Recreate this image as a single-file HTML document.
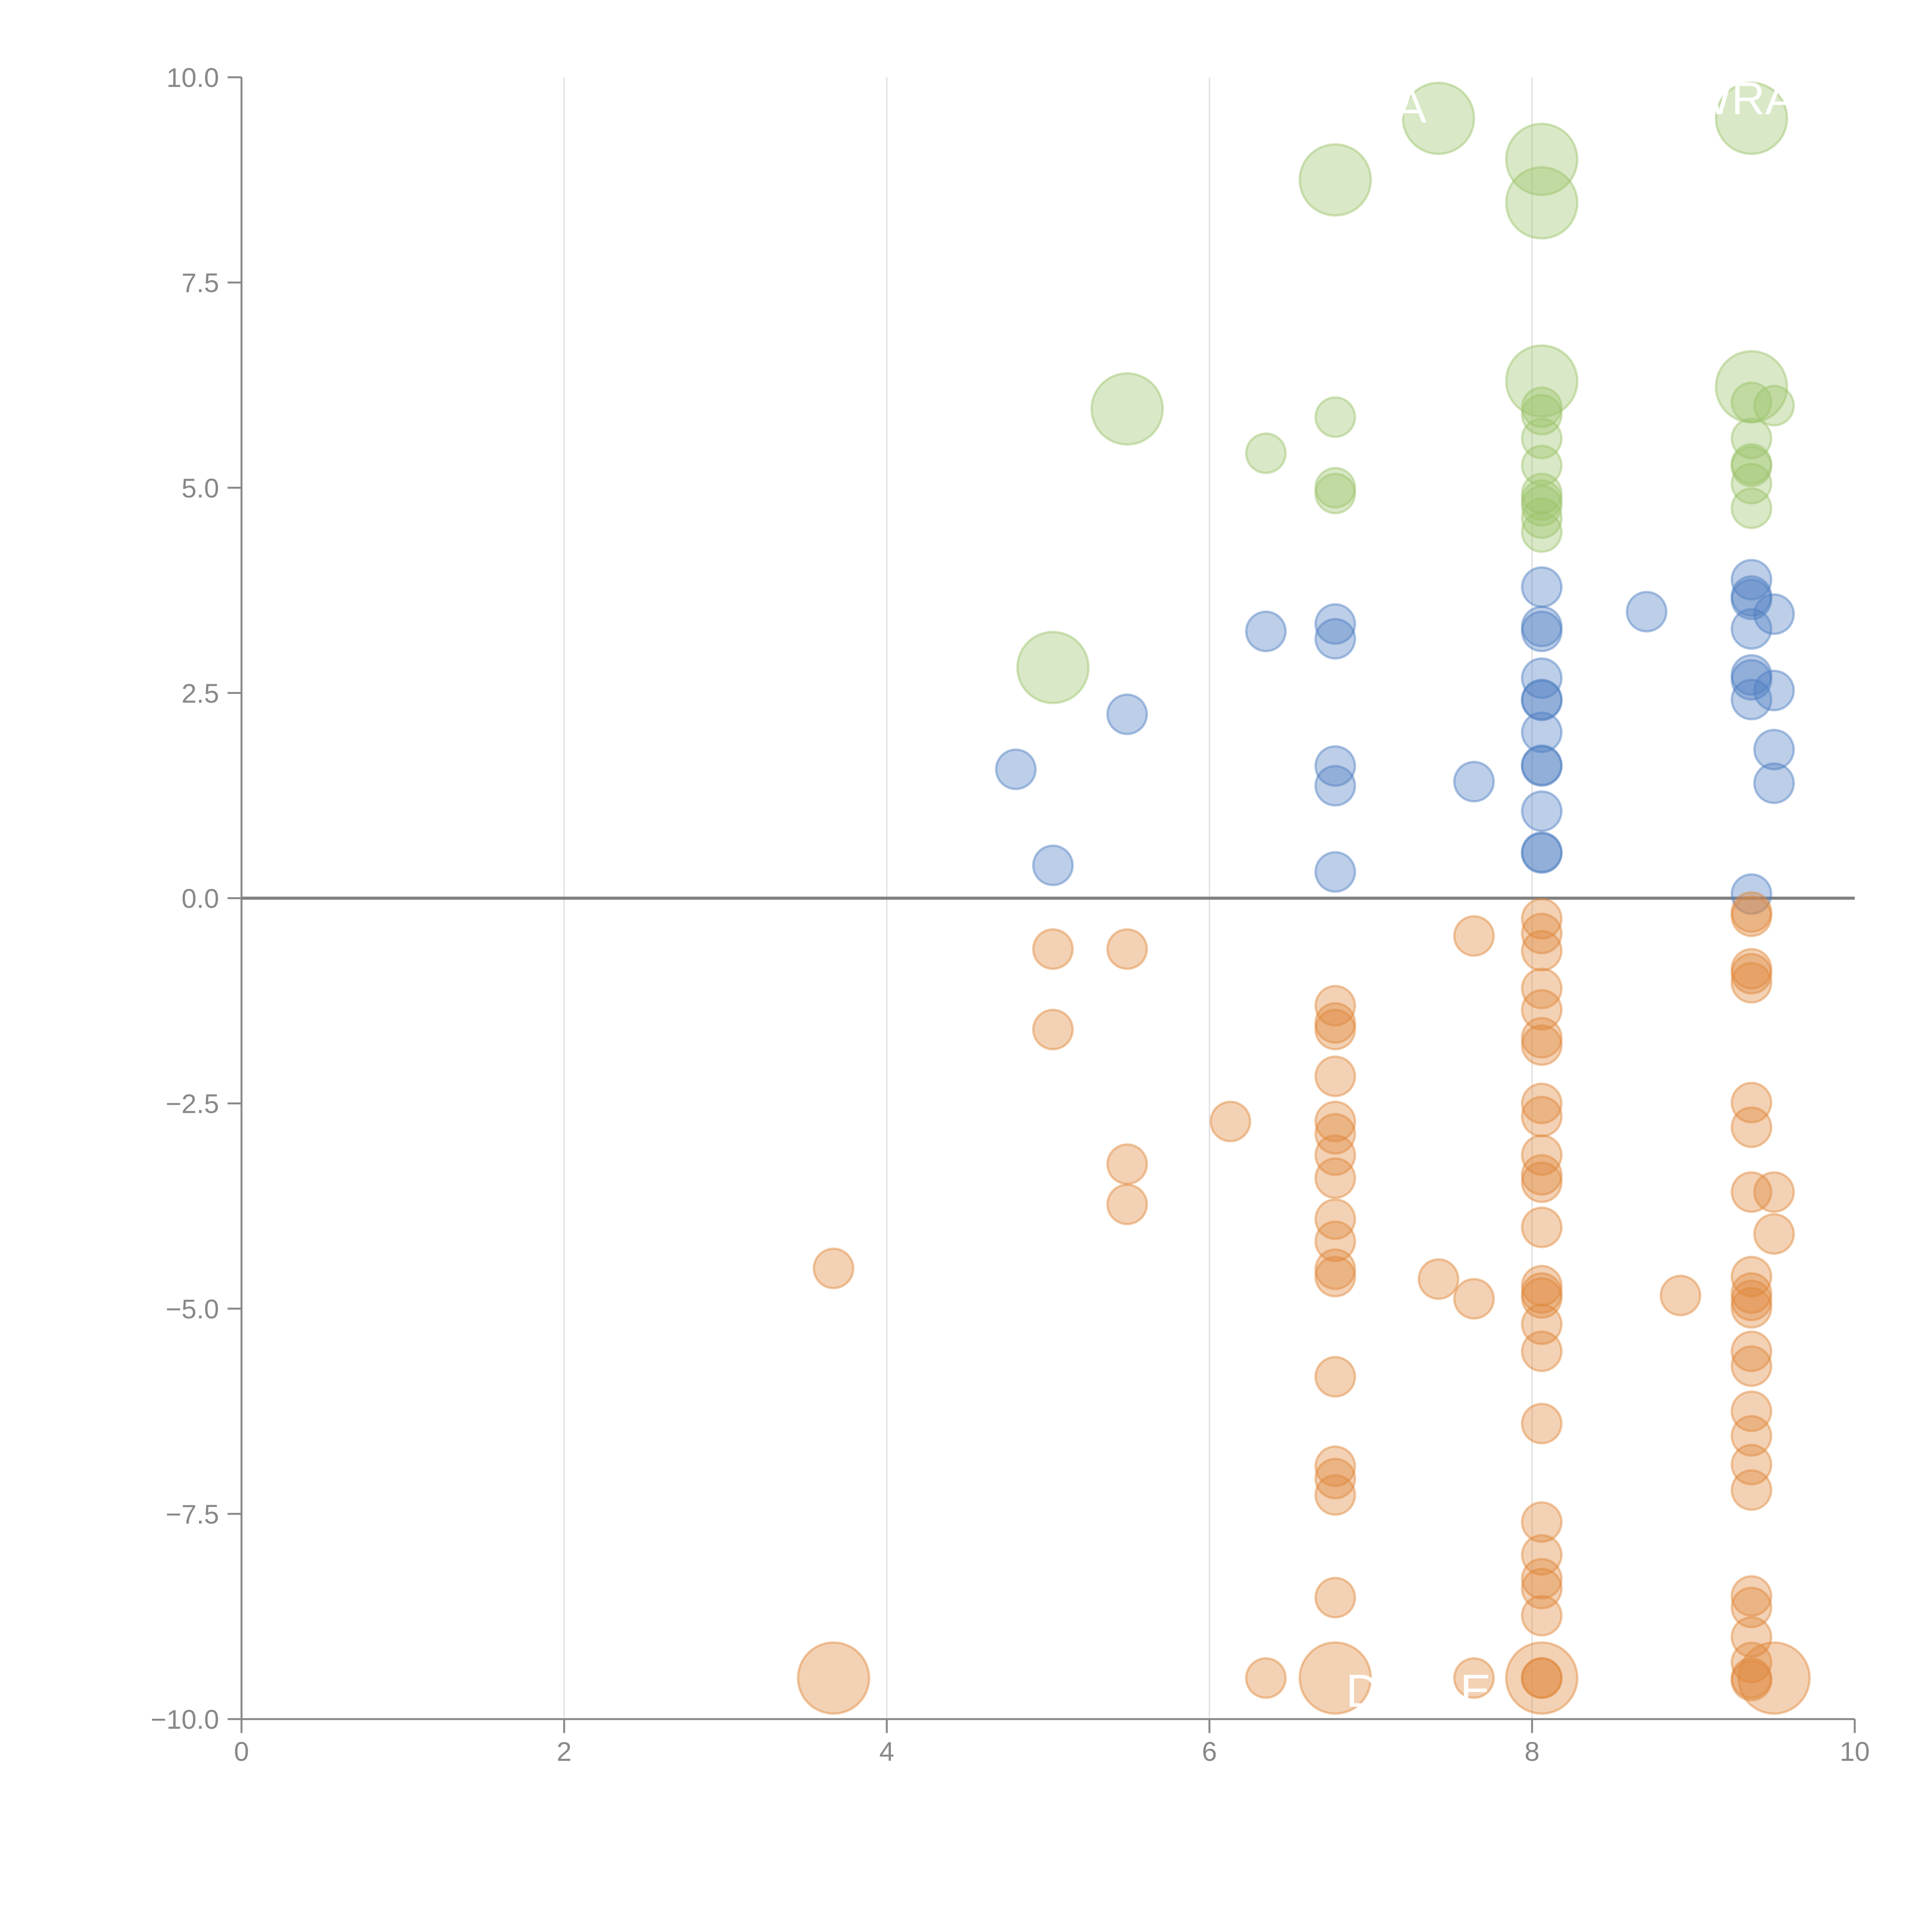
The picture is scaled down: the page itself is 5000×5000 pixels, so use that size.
<!DOCTYPE html>
<html><head><meta charset="utf-8"><style>
html,body{margin:0;padding:0;background:#fff;}
svg{display:block;}
text{font-family:"Liberation Sans",sans-serif;}
</style></head><body>
<svg id="chart" width="5000" height="5000" viewBox="0 0 5000 5000" xmlns="http://www.w3.org/2000/svg">
<g id="grid"></g>
<g id="axes"></g>
<g id="marks"></g>
<g id="labels"></g>
</svg>
<script>
const xTicks=[0,2,4,6,8,10];
const yTicks=[10,7.5,5,2.5,0,-2.5,-5,-7.5,-10];
const yTickLabels=["10.0","7.5","5.0","2.5","0.0","\u22122.5","\u22125.0","\u22127.5","\u221210.0"];
const greenBigX=[7.42,9.36,6.78,8.06,8.06,8.06,9.36,5.49,5.03];
const greenBigY=[9.5,9.5,8.75,9.0,8.47,6.3,6.23,5.96,2.81];
const greenX=[6.78,6.35,6.78,6.78,8.06,8.06,8.06,8.06,8.06,8.06,8.06,8.06,8.06,9.36,9.5,9.36,9.36,9.36,9.36,9.36];
const greenY=[5.86,5.42,5.0,4.93,5.98,5.89,5.6,5.27,4.93,4.78,4.63,4.46,4.85,6.04,6.0,5.6,5.29,5.26,5.05,4.75];
const blueX=[6.78,6.78,6.35,5.49,4.8,5.03,6.78,6.78,6.78,7.64,8.71,8.06,8.06,8.06,8.06,8.06,8.06,8.06,8.06,8.06,8.06,8.06,8.06,9.36,9.36,9.36,9.36,9.5,9.36,9.36,9.36,9.5,9.5,9.5,9.36];
const blueY=[3.34,3.16,3.25,2.24,1.57,0.4,1.61,1.37,0.32,1.42,3.49,3.79,3.31,3.25,2.68,2.41,2.02,1.61,1.06,0.56,0.55,2.42,1.62,3.88,3.68,3.64,3.28,3.46,2.72,2.66,2.42,2.53,1.81,1.4,0.05];
const orangeBigX=[3.67,6.78,8.06,9.5];
const orangeBigY=[-9.5,-9.5,-9.5,-9.5];
const orangeX=[3.67,5.03,5.49,5.03,5.49,5.49,6.13,7.64,7.42,7.64,8.92,6.35,7.64,
6.78,6.78,6.78,6.78,6.78,6.78,6.78,6.78,6.78,6.78,6.78,6.78,6.78,6.78,6.78,6.78,6.78,
8.06,8.06,8.06,8.06,8.06,8.06,8.06,8.06,8.06,8.06,8.06,8.06,8.06,8.06,8.06,8.06,8.06,8.06,8.06,8.06,8.06,8.06,8.06,8.06,8.06,8.06,
9.36,9.36,9.36,9.36,9.36,9.36,9.36,9.36,9.36,9.36,9.36,9.36,9.36,9.36,9.36,9.36,9.36,9.36,9.36,9.36,9.36,9.36,9.36,9.36,
9.5,9.5];
const orangeY=[-4.51,-0.62,-0.62,-1.6,-3.24,-3.73,-2.72,-0.46,-4.64,-4.88,-4.84,-9.5,-9.5,
-1.31,-1.52,-1.6,-2.17,-2.72,-2.87,-3.13,-3.41,-3.91,-4.18,-4.52,-4.61,-5.83,-6.92,-7.07,-7.27,-8.52,
-0.25,-0.43,-0.64,-1.1,-1.36,-1.7,-1.79,-2.5,-2.66,-3.13,-3.37,-3.46,-4.01,-4.72,-4.81,-4.87,-5.19,-5.52,-6.4,-7.6,-8.0,-8.29,-8.41,-8.74,-9.5,-9.5,
-0.17,-0.22,-0.86,-0.92,-1.03,-2.49,-2.79,-3.58,-4.61,-4.81,-4.9,-4.99,-5.52,-5.7,-6.25,-6.55,-6.9,-7.21,-8.5,-8.64,-9.0,-9.31,-9.5,-9.53,
-3.58,-4.09];

const NS="http://www.w3.org/2000/svg";
const X0=625,X1=4800,Y0=4449,Y1=200;
function sx(v){return X0+(v-0)/(10-0)*(X1-X0);}
function sy(v){return Y0-(v+10)/20*(Y0-Y1);}
function mk(tag,attrs,parent){const e=document.createElementNS(NS,tag);for(const k in attrs)e.setAttribute(k,attrs[k]);parent.appendChild(e);return e;}
const grid=document.getElementById('grid'),axes=document.getElementById('axes'),marks=document.getElementById('marks'),labels=document.getElementById('labels');

xTicks.forEach(t=>{
  if(t>0&&t<10){
    const g=mk('line',{x1:sx(t),x2:sx(t),y1:Y1,y2:Y0,stroke:'#dcdcdc','stroke-width':3},grid);
    
    
  }
  const tk=mk('line',{x1:sx(t),x2:sx(t),y1:Y0,y2:Y0+36,stroke:'#888','stroke-width':5},axes);
  
  
  const tl=mk('text',{x:sx(t),y:Y0+108,'font-size':70,fill:'#888','text-anchor':'middle'},axes);
  tl.textContent=String(t);
  
  
});
yTicks.forEach((t,i)=>{
  const tk=mk('line',{x1:X0-36,x2:X0,y1:sy(t),y2:sy(t),stroke:'#888','stroke-width':5},axes);
  
  
  const tl=mk('text',{x:X0-58,y:sy(t)+25,'font-size':70,fill:'#888','text-anchor':'end'},axes);
  tl.textContent=yTickLabels[i];
  
  
});
const ya=mk('line',{x1:X0,x2:X0,y1:Y1,y2:Y0,stroke:'#888','stroke-width':5},axes);


const xa=mk('line',{x1:X0,x2:X1,y1:Y0,y2:Y0,stroke:'#888','stroke-width':5},axes);


const zl=mk('line',{x1:X0,x2:X1,y1:sy(0),y2:sy(0),stroke:'#808080','stroke-width':8},axes);



function series(xs,ys,r,color,name){
  xs.forEach((x,i)=>{
    const c=mk('circle',{cx:sx(x),cy:sy(ys[i]),r:r,fill:color,'fill-opacity':0.38,stroke:color,'stroke-opacity':0.45,'stroke-width':6},marks);
    
    
  });
}
series(greenBigX,greenBigY,92,'#9cc36a','green-bubble-large');
series(greenX,greenY,51,'#9cc36a','green-bubble');
series(blueX,blueY,51,'#4e7fc2','blue-bubble');
series(orangeX,orangeY,51,'#e0873a','orange-bubble');
series(orangeBigX,orangeBigY,92,'#e0873a','orange-bubble-large');

const labText=["A","WRA","D","E","F"];
const labX=[7.25,9.3,6.95,7.65,9.1];
const labY=[9.45,9.55,-9.85,-9.85,-9.8];
labText.forEach((t,i)=>{
  const l=mk('text',{x:sx(labX[i]),y:sy(labY[i]),'font-size':120,fill:'#fff','text-anchor':'middle'},labels);
  l.textContent=t;
  
  
});
</script>
</body></html>
